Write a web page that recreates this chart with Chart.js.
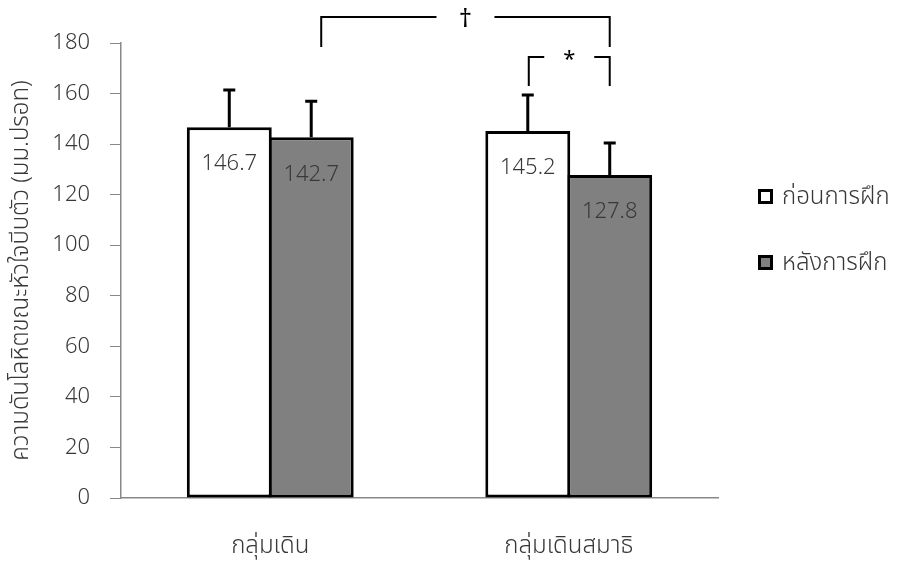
<!DOCTYPE html>
<html>
<head>
<meta charset="utf-8">
<script src="https://cdn.jsdelivr.net/npm/chart.js@4/dist/chart.umd.min.js"></script>
<style>
  html, body { margin: 0; padding: 0; background: #fff; }
  #wrap { width: 898px; height: 563px; }
</style>
</head>
<body>
<div id="wrap"><canvas id="myChart" width="898" height="563"></canvas></div>
<script>
// categories and series
const groups = ['กลุ่มเดิน', 'กลุ่มเดินสมาธิ'];
const seriesNames = ['ก่อนการฝึก', 'หลังการฝึก'];
const beforeValues = [146.7, 145.2];
const afterValues = [142.7, 127.8];
// upper error (SD)
const beforeErr = [14.7, 14.2];
const afterErr = [14.3, 12.6];
const yTicks = [0, 20, 40, 60, 80, 100, 120, 140, 160, 180];
const yTitle = 'ความดันโลหิตขณะหัวใจบีบตัว (มม.ปรอท)';

const FONT = '"Noto Sans", "Noto Sans Thai", sans-serif';
const TXT = '#383838';

// error bars, value labels, significance brackets, legend
const extras = {
  id: 'extras',
  afterDatasetsDraw(chart) {
    const ctx = chart.ctx;
    const y = chart.scales.y;
    const errs = [beforeErr, afterErr];
    ctx.save();
    chart.data.datasets.forEach((ds, di) => {
      const meta = chart.getDatasetMeta(di);
      meta.data.forEach((bar, i) => {
        const top = y.getPixelForValue(ds.data[i]);
        const et = y.getPixelForValue(ds.data[i] + errs[di][i]);
        ctx.strokeStyle = '#000';
        ctx.lineWidth = 3;
        ctx.beginPath();
        ctx.moveTo(bar.x, top);
        ctx.lineTo(bar.x, et);
        ctx.moveTo(bar.x - 6, et);
        ctx.lineTo(bar.x + 6, et);
        ctx.stroke();
        // value label
        ctx.fillStyle = TXT;
        ctx.font = '300 22px ' + FONT;
        ctx.textAlign = 'center';
        ctx.textBaseline = 'middle';
        ctx.fillText(ds.data[i].toFixed(1), bar.x, top + 37);
      });
    });

    // brackets
    const a = chart.getDatasetMeta(1).data[0];
    const b = chart.getDatasetMeta(1).data[1];
    const c = chart.getDatasetMeta(0).data[1];
    const t = chart.chartArea.top;
    const bracket = (x1, x2, yTop, yBot, sym, gap, size) => {
      const mid = (x1 + x2) / 2;
      ctx.strokeStyle = '#000';
      ctx.lineWidth = 2;
      ctx.beginPath();
      ctx.moveTo(x1, yBot);
      ctx.lineTo(x1, yTop);
      ctx.lineTo(mid - gap, yTop);
      ctx.moveTo(mid + gap, yTop);
      ctx.lineTo(x2, yTop);
      ctx.lineTo(x2, yBot);
      ctx.stroke();
      ctx.fillStyle = '#000';
      ctx.font = size + 'px ' + FONT;
      ctx.textAlign = 'center';
      ctx.textBaseline = 'middle';
      ctx.fillText(sym, mid, yTop + 3);
    };
    bracket(a.x + 10, b.x, t - 26, t + 4, '†', 29, 26);
    bracket(c.x + 1, b.x, t + 14, t + 43, '*', 25, 22);

    // legend
    const lx = chart.chartArea.right + 40;
    const ly = [196, 262];
    chart.data.datasets.forEach((ds, di) => {
      ctx.fillStyle = ds.backgroundColor;
      ctx.fillRect(lx, ly[di] - 7, 15, 15);
      ctx.strokeStyle = '#000';
      ctx.lineWidth = 3;
      ctx.strokeRect(lx + 1.5, ly[di] - 5.5, 12, 12);
      ctx.fillStyle = TXT;
      ctx.font = '300 24px ' + FONT;
      ctx.textAlign = 'left';
      ctx.textBaseline = 'middle';
      ctx.fillText(ds.label, lx + 24, ly[di] + 1);
    });
    ctx.restore();
  }
};

const ctx = document.getElementById('myChart').getContext('2d');
const myChart = new Chart(ctx, {
  type: 'bar',
  data: {
    labels: groups,
    datasets: [{
      label: seriesNames[0],
      data: beforeValues,
      backgroundColor: '#ffffff',
      borderColor: '#000000',
      borderWidth: 3,
      borderSkipped: false
    }, {
      label: seriesNames[1],
      data: afterValues,
      backgroundColor: '#808080',
      borderColor: '#000000',
      borderWidth: 3,
      borderSkipped: false
    }]
  },
  options: {
    responsive: false,
    animation: false,
    datasets: {
      bar: { categoryPercentage: 0.549, barPercentage: 1.0366 }
    },
    layout: { padding: { top: 43, right: 180, bottom: 0, left: 0 } },
    plugins: {
      legend: { display: false },
      tooltip: { enabled: false }
    },
    scales: {
      x: {
        grid: { display: true, drawOnChartArea: false, drawTicks: false, color: '#888' },
        border: { color: '#888', width: 1.5 },
        ticks: { color: TXT, font: { family: FONT, size: 24, weight: 300 }, padding: 34 },
        afterFit(scale) { scale.height = 65; }
      },
      y: {
        min: 0,
        max: 180,
        afterBuildTicks(scale) { scale.ticks = yTicks.map(v => ({ value: v })); },
        grid: { display: true, drawOnChartArea: false, tickLength: 11, color: '#888' },
        border: { color: '#888', width: 1.5 },
        ticks: { color: TXT, font: { family: FONT, size: 22, weight: 300 }, padding: 20 },
        title: {
          display: true,
          text: yTitle,
          color: TXT,
          font: { family: FONT, size: 24, weight: 300 },
          padding: { top: 7, bottom: 0 }
        },
        afterFit(scale) { scale.width = 121; }
      }
    }
  },
  plugins: [extras]
});
</script>
</body>
</html>
